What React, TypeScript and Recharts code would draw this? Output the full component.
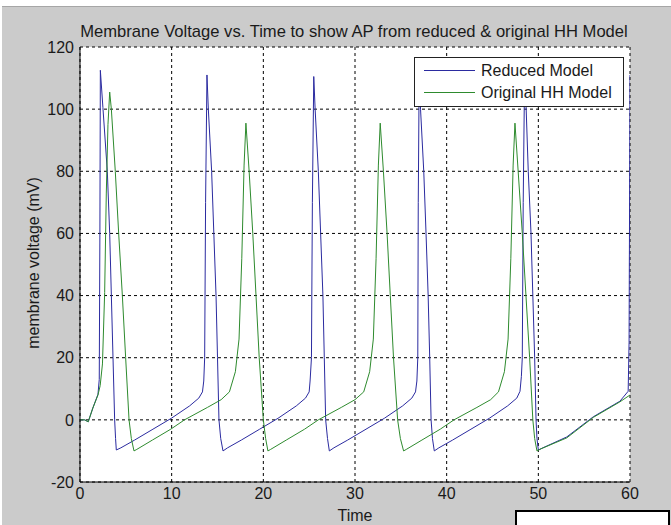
import React from "react";
import { LineChart, Line, XAxis, YAxis, CartesianGrid, Legend } from "recharts";

const timeTicks = [0, 10, 20, 30, 40, 50, 60];
const voltageTicks = [-20, 0, 20, 40, 60, 80, 100, 120];
const seriesNames = ["Reduced Model", "Original HH Model"];

// reduced model trace (ms, mV)
const reducedTime = [
  0, 0.5, 0.9, 1.4, 1.96, 2.1, 2.17, 2.22, 2.5, 2.98, 3.24, 3.42, 3.6, 3.78, 3.88, 3.96,
  4.46, 5.96, 7.96, 9.96, 11.96, 12.96, 13.36, 13.5, 13.6, 13.7, 13.85,
  14.0, 14.36, 14.6, 14.84, 15.0, 15.16, 15.35, 15.6,
  16.1, 17.6, 19.6, 21.6, 23.6, 24.6, 25.0, 25.1, 25.25, 25.35, 25.5,
  25.65, 26.0, 26.25, 26.5, 26.65, 26.8, 27.0, 27.2,
  27.7, 29.2, 31.2, 33.2, 35.2, 36.2, 36.6, 36.75, 36.85, 36.9, 37.0,
  37.15, 37.5, 37.75, 37.98, 38.15, 38.3, 38.45, 38.65,
  39.15, 40.65, 42.65, 44.65, 46.65, 47.65, 48.0, 48.15, 48.25, 48.35, 48.5,
  48.65, 48.9, 49.2, 49.4, 49.6, 49.75, 49.85, 50.0,
  50.5, 53.1, 56.0, 58.9, 59.8, 59.9, 60.0,
];
const reducedVoltage = [
  0, 0, -0.6, 3.8, 8.2, 13, 60, 112.5, 100.5, 80, 60, 40, 20, 0, -6, -9.7,
  -9, -6.5, -3, 0.5, 4.5, 7, 9, 12.5, 20, 70, 111,
  100, 80, 60, 40, 20, 0, -6, -10,
  -9, -6.5, -3, 0.5, 4.5, 7, 9, 12.5, 20, 70, 110.5,
  100, 80, 60, 40, 20, 0, -6, -10,
  -9, -6.5, -3, 0.5, 4.5, 7, 9, 12.5, 20, 70, 110,
  100, 80, 60, 40, 20, 0, -6, -10,
  -9, -6.5, -3, 0.5, 4.5, 7, 9.2, 14, 20, 70, 111,
  102, 80, 60, 40, 20, 0, -6, -9.7,
  -9, -5.5, 1, 6, 9.2, 25, 111,
];

// original HH model trace (ms, mV)
const originalTime = [
  0, 0.5, 0.9, 1.4, 1.96, 2.2, 2.45, 2.69, 2.87, 3.05, 3.24,
  3.42, 3.85, 4.22, 4.62, 4.98, 5.35, 5.6, 5.89,
  6.2, 7.9, 9.9, 11.4, 13.9, 15.4, 16.3, 16.95, 17.35, 17.65, 17.9, 18.1,
  18.45, 18.85, 19.2, 19.55, 20.0, 20.25, 20.5,
  20.8, 22.5, 24.5, 26.0, 28.5, 30.0, 30.95, 31.6, 32.0, 32.3, 32.55, 32.75,
  33.1, 33.5, 33.85, 34.2, 34.65, 34.95, 35.3,
  35.6, 37.3, 39.3, 40.8, 43.3, 44.8, 45.65, 46.3, 46.7, 47.0, 47.25, 47.45,
  47.8, 48.25, 48.65, 49.05, 49.4, 49.6, 49.85,
  50.3, 53.1, 56.0, 58.9, 60.0,
];
const originalVoltage = [
  0, 0, -0.6, 3.8, 8, 11, 18, 41, 73, 95, 105.5,
  100, 80, 60, 40, 20, 0, -6, -10,
  -9.5, -6.5, -3, 0, 4, 6.5, 9, 15.5, 26, 52, 82, 95.5,
  80, 60, 40, 20, 0, -6, -10,
  -9.5, -6.5, -3, 0, 4, 6.5, 9, 15.5, 26, 52, 82, 95.5,
  80, 60, 40, 20, 0, -6, -10,
  -9.5, -6.5, -3, 0, 4, 6.5, 9, 15.5, 26, 52, 82, 95.5,
  80, 60, 40, 20, 0, -6, -10,
  -9.3, -5.8, 0.8, 5.8, 8,
];

const reducedData = reducedTime.map((t, i) => ({ t, v: reducedVoltage[i] }));
const originalData = originalTime.map((t, i) => ({ t, v: originalVoltage[i] }));

const BLUE = "#2b2ba0";
const GREEN = "#2e8b2e";
const TEXT = "#1a1a1a";

function LegendBox() {
  return (
    <svg width={210} height={50} style={{ display: "block" }}>
      <rect x={0.5} y={0.5} width={209} height={49} fill="#fff" stroke="#222" />
      <line x1={10} x2={61} y1={13.5} y2={13.5} stroke={BLUE} />
      <line x1={10} x2={61} y1={35.5} y2={35.5} stroke={GREEN} />
      <text x={67} y={19} fontSize={16} fill={TEXT}>
        {seriesNames[0]}
      </text>
      <text x={67} y={41} fontSize={16} fill={TEXT}>
        {seriesNames[1]}
      </text>
    </svg>
  );
}

export default function App() {
  return (
    <div
      style={{
        position: "absolute",
        left: 0,
        top: 0,
        width: 671,
        height: 525,
        overflow: "hidden",
        background: "#fff",
        fontFamily: '"Liberation Sans", Arial, sans-serif',
      }}
    >
      <div
        style={{
          position: "absolute",
          left: 2,
          top: 6,
          right: 0,
          bottom: 0,
          background: "#cbcbcb",
          borderTop: "1px solid #a6a6a6",
        }}
      />
      <div style={{ position: "absolute", left: 0, top: 0 }}>
        <LineChart width={671} height={525} margin={{ top: 47, right: 41, left: 0, bottom: 0 }}>
          <CartesianGrid stroke="#000" strokeDasharray="3 3" fill="#fff" fillOpacity={1} />
          <XAxis
            dataKey="t"
            type="number"
            domain={[0, 60]}
            ticks={timeTicks}
            allowDataOverflow
            height={43}
            tickSize={0}
            tickMargin={6}
            tickLine={false}
            axisLine={{ stroke: "#000" }}
            tick={{ fill: TEXT, fontSize: 16 }}
          />
          <YAxis
            type="number"
            domain={[-20, 120]}
            ticks={voltageTicks}
            allowDataOverflow
            width={80}
            tickSize={0}
            tickMargin={6}
            tickLine={false}
            axisLine={{ stroke: "#000" }}
            tick={{ fill: TEXT, fontSize: 16 }}
          />
          <Legend
            layout="vertical"
            align="center"
            verticalAlign="middle"
            wrapperStyle={{ position: "absolute", left: 414, top: 57, width: 210, height: 50 }}
            content={() => <LegendBox />}
          />
          <Line
            data={reducedData}
            dataKey="v"
            name={seriesNames[0]}
            type="linear"
            stroke={BLUE}
            strokeWidth={1}
            dot={false}
            activeDot={false}
            isAnimationActive={false}
          />
          <Line
            data={originalData}
            dataKey="v"
            name={seriesNames[1]}
            type="linear"
            stroke={GREEN}
            strokeWidth={1}
            dot={false}
            activeDot={false}
            isAnimationActive={false}
          />
        </LineChart>
      </div>
      <svg
        width={671}
        height={525}
        style={{ position: "absolute", left: 0, top: 0, pointerEvents: "none" }}
      >
        <text x={354} y={37} textAnchor="middle" fontSize={16.6} fill={TEXT}>
          Membrane Voltage vs. Time to show AP from reduced &amp; original HH Model
        </text>
        <text
          transform="translate(39 263) rotate(-90)"
          textAnchor="middle"
          fontSize={16}
          fill={TEXT}
        >
          membrane voltage (mV)
        </text>
        <text x={355} y={521} textAnchor="middle" fontSize={16} fill={TEXT}>
          Time
        </text>
      </svg>
      <div
        style={{
          position: "absolute",
          left: 515,
          top: 510,
          width: 151,
          height: 20,
          background: "#fff",
          border: "2px solid #000",
        }}
      />
    </div>
  );
}
